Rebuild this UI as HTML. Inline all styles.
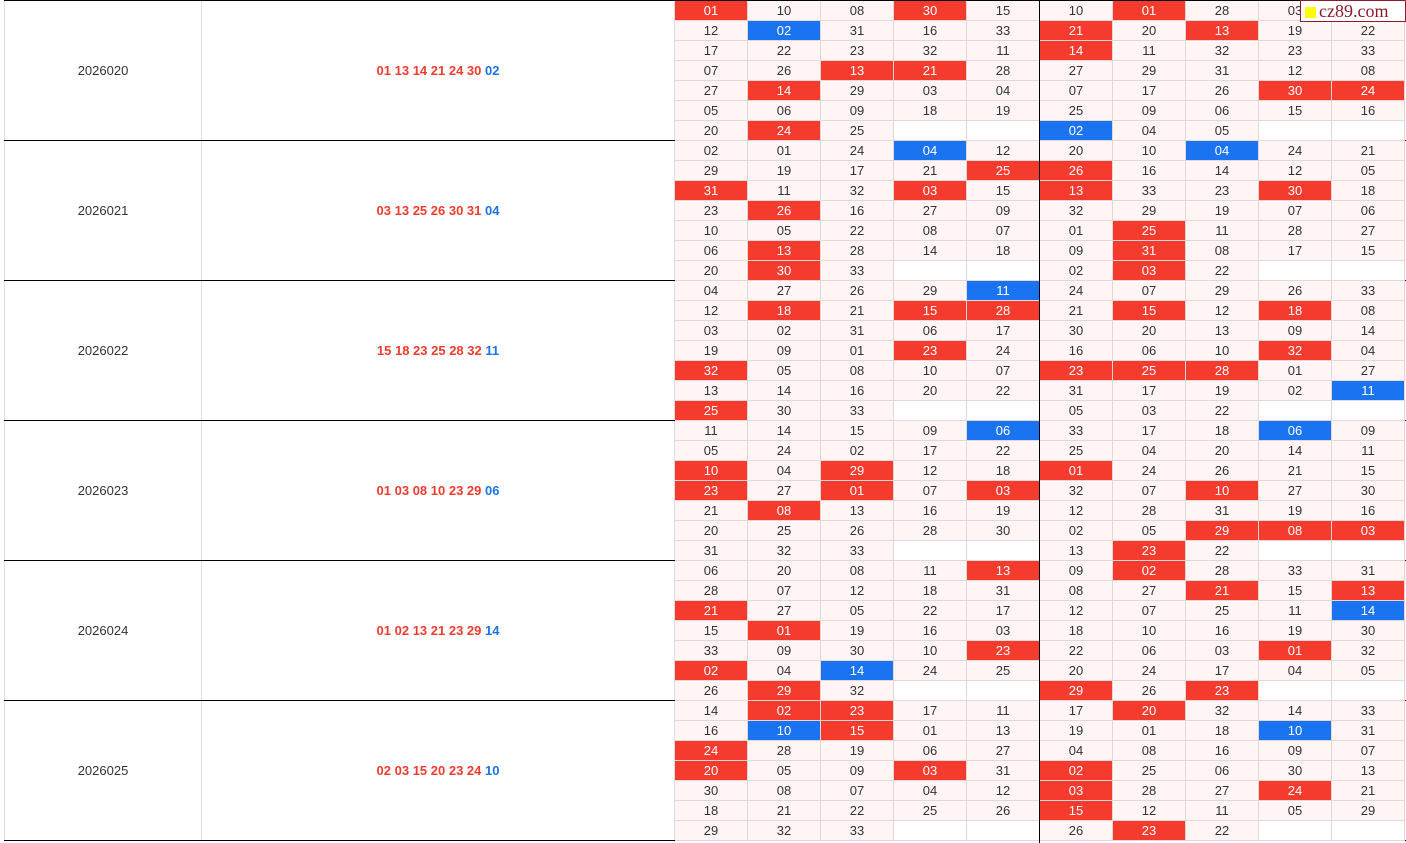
<!DOCTYPE html>
<html><head><meta charset="utf-8"><style>
body{margin:0;width:1406px;height:843px;overflow:hidden;background:#fff;font-family:"Liberation Sans","Noto Sans CJK SC",sans-serif;font-size:13px;color:#333;position:relative}
.c{position:absolute;box-sizing:border-box;text-align:center;line-height:20px;height:20px;border-right:1px solid #e3d6d6;border-bottom:1px solid #e3d6d6;background:#fff5f5}
.r{background:#f53a2e;color:#fff}
.b{background:#1a73f0;color:#fff}
.e{background:#fff}
.blk{position:absolute;box-sizing:border-box;border-bottom:1px solid #000;left:4px;width:1402px;height:140px}
.iss{position:absolute;left:0;width:198px;height:139px;line-height:140px;text-align:center;border-right:1px solid #ddd;border-left:1px solid #ddd;box-sizing:border-box}
.num{position:absolute;left:198px;width:473px;height:139px;line-height:140px;text-align:center;font-weight:bold;color:#f03b2e;border-right:1px solid #ddd;box-sizing:border-box}
.num span{color:#1a73e8}
</style></head><body>
<div style="position:absolute;left:4px;top:0;width:1402px;height:1px;background:#000"></div>
<div id="tbl"></div>
<div style="position:absolute;left:1039px;top:0;width:1px;height:843px;background:#000;z-index:2"></div>
<div style="position:absolute;left:1300px;top:0;width:106px;height:22px;background:#fff;border:1px solid #8b1a2b;box-sizing:border-box;z-index:3;font-family:'Liberation Serif',serif;font-size:18px;color:#8b1a2b;line-height:20px;white-space:nowrap"><span style="display:inline-block;width:11px;height:11px;background:#ff0;margin:0 3px 0 4px;vertical-align:-1px"></span>cz89.com</div>
<script>
const issues=["2026020","2026021","2026022","2026023","2026024","2026025"];
const redBalls=[["01","13","14","21","24","30"],["03","13","25","26","30","31"],["15","18","23","25","28","32"],["01","03","08","10","23","29"],["01","02","13","21","23","29"],["02","03","15","20","23","24"]];
const blueBalls=["02","04","11","06","14","10"];
const grids=[
["r01 10 08 r30 15 10 r01 28 03 _","12 b02 31 16 33 r21 20 r13 19 22","17 22 23 32 11 r14 11 32 23 33","07 26 r13 r21 28 27 29 31 12 08","27 r14 29 03 04 07 17 26 r30 r24","05 06 09 18 19 25 09 06 15 16","20 r24 25 _ _ b02 04 05 _ _"],
["02 01 24 b04 12 20 10 b04 24 21","29 19 17 21 r25 r26 16 14 12 05","r31 11 32 r03 15 r13 33 23 r30 18","23 r26 16 27 09 32 29 19 07 06","10 05 22 08 07 01 r25 11 28 27","06 r13 28 14 18 09 r31 08 17 15","20 r30 33 _ _ 02 r03 22 _ _"],
["04 27 26 29 b11 24 07 29 26 33","12 r18 21 r15 r28 21 r15 12 r18 08","03 02 31 06 17 30 20 13 09 14","19 09 01 r23 24 16 06 10 r32 04","r32 05 08 10 07 r23 r25 r28 01 27","13 14 16 20 22 31 17 19 02 b11","r25 30 33 _ _ 05 03 22 _ _"],
["11 14 15 09 b06 33 17 18 b06 09","05 24 02 17 22 25 04 20 14 11","r10 04 r29 12 18 r01 24 26 21 15","r23 27 r01 07 r03 32 07 r10 27 30","21 r08 13 16 19 12 28 31 19 16","20 25 26 28 30 02 05 r29 r08 r03","31 32 33 _ _ 13 r23 22 _ _"],
["06 20 08 11 r13 09 r02 28 33 31","28 07 12 18 31 08 27 r21 15 r13","r21 27 05 22 17 12 07 25 11 b14","15 r01 19 16 03 18 10 16 19 30","33 09 30 10 r23 22 06 03 r01 32","r02 04 b14 24 25 20 24 17 04 05","26 r29 32 _ _ r29 26 r23 _ _"],
["14 r02 r23 17 11 17 r20 32 14 33","16 b10 r15 01 13 19 01 18 b10 31","r24 28 19 06 27 04 08 16 09 07","r20 05 09 r03 31 r02 25 06 30 13","30 08 07 04 12 r03 28 27 r24 21","18 21 22 25 26 r15 12 11 05 29","29 32 33 _ _ 26 r23 22 _ _"]];
const T=document.getElementById('tbl');
issues.forEach((iss,i)=>{
 const top=1+i*140;
 const blk=document.createElement('div');blk.className='blk';blk.style.top=top+'px';
 
 
 const a=document.createElement('div');a.className='iss';a.textContent=iss;
 
 
 blk.appendChild(a);
 const n=document.createElement('div');n.className='num';
 n.innerHTML=redBalls[i].join(' ')+' <span>'+blueBalls[i]+'</span>';
 
 
 blk.appendChild(n);
 grids[i].forEach((row,ri)=>{
  row.split(' ').forEach((v,ci)=>{
   const c=document.createElement('div');
   let cls='c';let t=v;
   if(v==='_'){cls+=' e';t='';}
   else if(v[0]==='r'){cls+=' r';t=v.slice(1);}
   else if(v[0]==='b'){cls+=' b';t=v.slice(1);}
   c.className=cls;c.textContent=t;
   c.style.left=(671+ci*73)+'px';c.style.top=(ri*20)+'px';c.style.width='73px';
   
   
   blk.appendChild(c);
  });
 });
 T.appendChild(blk);
});
</script>
</body></html>
